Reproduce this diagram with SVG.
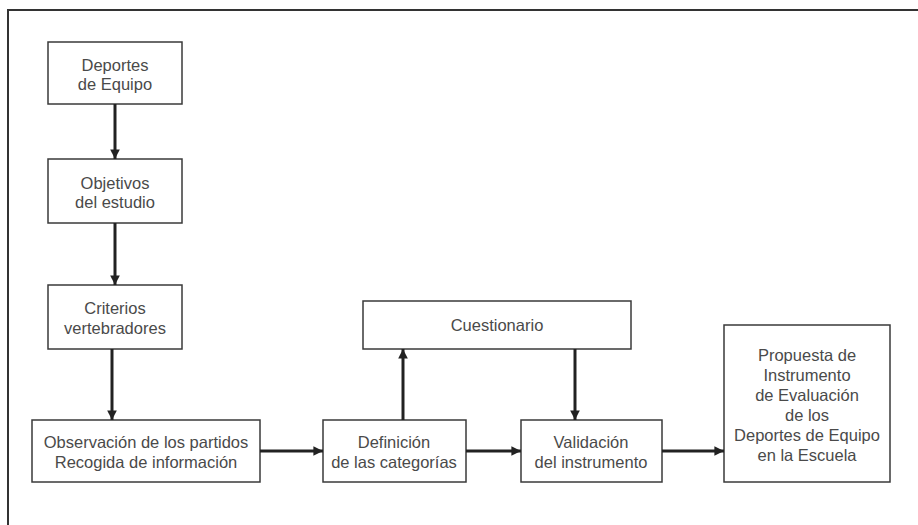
<svg xmlns="http://www.w3.org/2000/svg" width="918" height="525" viewBox="0 0 918 525">
<defs>
<marker id="ah" viewBox="0 0 10 10" refX="10" refY="5" markerWidth="3.2" markerHeight="3.2" orient="auto" markerUnits="strokeWidth">
<path d="M0,0 L10,5 L0,10 z" fill="#222"/>
</marker>
<style>
.box{fill:#fff;stroke:#3a3a3a;stroke-width:1.5}
.t{font-family:"Liberation Sans",Arial,sans-serif;font-size:16.5px;fill:#4a4a4a;text-anchor:middle}
.c{stroke:#222;stroke-width:3;fill:none;marker-end:url(#ah)}
.frame{stroke:#333;stroke-width:2;fill:none}
</style>
</defs>
<rect width="918" height="525" fill="#fff"/>
<path class="frame" d="M8,525 V10 H918"/>
<g id="n1"><rect class="box" x="48" y="42" width="134" height="62"/><text class="t" x="115" y="71">Deportes</text><text class="t" x="115" y="90">de Equipo</text></g>
<g id="n2"><rect class="box" x="48" y="159" width="134" height="64"/><text class="t" x="115" y="189">Objetivos</text><text class="t" x="115" y="208">del estudio</text></g>
<g id="n3"><rect class="box" x="48" y="285" width="134" height="64"/><text class="t" x="115" y="314">Criterios</text><text class="t" x="115" y="334">vertebradores</text></g>
<g id="n4"><rect class="box" x="32" y="420" width="228" height="62"/><text class="t" x="146" y="448">Observación de los partidos</text><text class="t" x="146" y="468">Recogida de información</text></g>
<g id="n5"><rect class="box" x="323" y="420" width="143" height="62"/><text class="t" x="394" y="448">Definición</text><text class="t" x="394" y="468">de las categorías</text></g>
<g id="n6"><rect class="box" x="363" y="301" width="268" height="48"/><text class="t" x="497" y="331">Cuestionario</text></g>
<g id="n7"><rect class="box" x="521" y="420" width="141" height="62"/><text class="t" x="591" y="448">Validación</text><text class="t" x="591" y="468">del instrumento</text></g>
<g id="n8"><rect class="box" x="724" y="325" width="166" height="157"/>
<text class="t" x="807" y="361">Propuesta de</text>
<text class="t" x="807" y="381">Instrumento</text>
<text class="t" x="807" y="401">de Evaluación</text>
<text class="t" x="807" y="421">de los</text>
<text class="t" x="807" y="441">Deportes de Equipo</text>
<text class="t" x="807" y="461">en la Escuela</text></g>
<g id="connectors">
<line class="c" x1="115" y1="104" x2="115" y2="159"/>
<line class="c" x1="115" y1="223" x2="115" y2="285"/>
<line class="c" x1="112" y1="349" x2="112" y2="420"/>
<line class="c" x1="260" y1="451" x2="323" y2="451"/>
<line class="c" x1="403" y1="420" x2="403" y2="349"/>
<line class="c" x1="575" y1="349" x2="575" y2="420"/>
<line class="c" x1="466" y1="451" x2="521" y2="451"/>
<line class="c" x1="662" y1="451" x2="724" y2="451"/>
</g>
</svg>
